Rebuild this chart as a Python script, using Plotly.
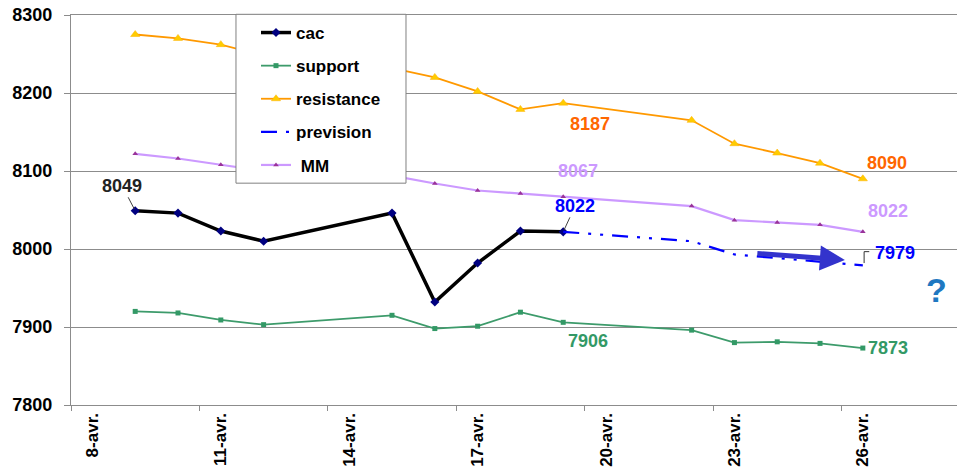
import plotly.graph_objects as go

# ---------------- data ----------------
days_cac = [9, 10, 11, 12, 15, 16, 17, 18, 19]
cac = [8049, 8046, 8023, 8010, 8046, 7932, 7982, 8023, 8022]

days_full = [9, 10, 11, 12, 15, 16, 17, 18, 19, 22, 23, 24, 25, 26]
support = [7920, 7918, 7909, 7903, 7915, 7898, 7901, 7919, 7906, 7896, 7880, 7881, 7879, 7873]
resistance = [8275, 8270, 8262, 8248, 8232, 8220, 8202, 8179, 8187, 8165, 8135, 8123, 8110, 8090]
mm = [8122, 8116, 8108, 8100, 8094, 8084, 8075, 8071, 8067, 8055, 8037, 8034, 8031, 8022]

days_prev = [19, 22, 23, 26]
prevision = [8022, 8010, 7993, 7979]

tick_days = [8, 11, 14, 17, 20, 23, 26]
tick_text = ["8-avr.", "11-avr.", "14-avr.", "17-avr.", "20-avr.", "23-avr.", "26-avr."]
y_ticks = [7800, 7900, 8000, 8100, 8200, 8300]

FONT = "Arial, Liberation Sans, sans-serif"
GRID = "#8c8c8c"

fig = go.Figure()

fig.add_trace(go.Scatter(
    x=days_cac, y=cac, name="cac", mode="lines+markers", legendgroup="a",
    line=dict(color="black", width=3.5),
    marker=dict(symbol="diamond", color="#000080", size=7)))
fig.add_trace(go.Scatter(
    x=days_full, y=support, name="support", mode="lines+markers", legendgroup="b",
    line=dict(color="#3d9b6b", width=1.8),
    marker=dict(symbol="square", color="#339966", size=5)))
fig.add_trace(go.Scatter(
    x=days_full, y=resistance, name="resistance", mode="lines+markers", legendgroup="c",
    line=dict(color="#FF9900", width=1.8),
    marker=dict(symbol="triangle-up", color="#FFCC00", size=8,
                line=dict(color="#FFB000", width=0.5))))
fig.add_trace(go.Scatter(
    x=days_prev, y=prevision, name="prevision", mode="lines", legendgroup="d",
    line=dict(color="#0000FF", width=2.2, dash="16px,9px,3px,9px,3px,9px")))
fig.add_trace(go.Scatter(
    x=days_full, y=mm, name="\u00a0MM", mode="lines+markers", legendgroup="e",
    line=dict(color="#CC99FF", width=2.2),
    marker=dict(symbol="triangle-up", color="#993399", size=5)))

ann = []
lab = dict(size=18, family=FONT, weight="bold")


def vlabel(x, y, text, color, dx, dy):
    ann.append(dict(x=x, y=y, xref="x", yref="y", text=str(text),
                    showarrow=False, xshift=dx, yshift=dy,
                    font=dict(color=color, **lab)))


# leader-line labels
ann.append(dict(x=days_cac[0], y=cac[0], xref="x", yref="y", text=str(cac[0]),
                showarrow=True, arrowhead=0, arrowwidth=1, arrowcolor="#404040",
                ax=-13, ay=-25, standoff=2, font=dict(color="#222222", **lab)))
ann.append(dict(x=days_cac[-1], y=cac[-1], xref="x", yref="y", text=str(cac[-1]),
                showarrow=True, arrowhead=0, arrowwidth=1, arrowcolor="#404040",
                ax=12, ay=-26, standoff=2, font=dict(color="#0000FF", **lab)))

i19 = days_full.index(19)
vlabel(19, resistance[i19], resistance[i19], "#FF6600", 27, -21)
vlabel(19, mm[i19], mm[i19], "#CC99FF", 15, 26)
vlabel(19, support[i19], support[i19], "#339966", 25, -19)
vlabel(26, resistance[-1], resistance[-1], "#FF6600", 24, 16)
vlabel(26, mm[-1], mm[-1], "#CC99FF", 25, 21)
vlabel(26, prevision[-1], prevision[-1], "#0000FF", 32, 12)
vlabel(26, support[-1], support[-1], "#339966", 25, 0)

# big arrow
ann.append(dict(x=25.58, y=7986, ax=23.5, ay=7994.5, xref="x", yref="y",
                axref="x", ayref="y", text="", showarrow=True, arrowhead=2,
                arrowsize=1.0, arrowwidth=5, arrowcolor="#3333CC"))
# question mark
ann.append(dict(x=27.73, y=7947, xref="x", yref="y", text="?", showarrow=False,
                font=dict(size=34, color="#1F78C1", family=FONT, weight="bold")))

shapes = [
    # leader bracket for 7979
    dict(type="path", xref="x", yref="y",
         path="M 26.03 7982 L 26.03 7996.6 L 26.15 7996.6",
         line=dict(color="#333333", width=1)),
    # legend frame
    dict(type="rect", xref="paper", yref="paper", x0=0.1862, x1=0.3781, y0=0.5688, y1=1.0018,
         fillcolor="white", line=dict(color="#808080", width=1), layer="above"),
]

fig.update_layout(
    width=962, height=474,
    margin=dict(l=71, r=5, t=15, b=69, autoexpand=False),
    paper_bgcolor="white", plot_bgcolor="white",
    font=dict(family=FONT, size=17, color="black"),
    showlegend=True,
    legend=dict(x=0.2088, y=1.0, xanchor="left", yanchor="top",
                bgcolor="rgba(0,0,0,0)", borderwidth=0,
                font=dict(size=17, family=FONT, color="black", weight="bold"),
                tracegroupgap=8, itemwidth=30),
    annotations=ann, shapes=shapes,
)

fig.update_xaxes(
    range=[7.5, 28.2], tickmode="array", tickvals=tick_days,
    ticktext=tick_text, tickangle=-90, automargin=False,
    ticks="", showgrid=False, zeroline=False,
    showline=True, linecolor=GRID, linewidth=1.3, mirror=True,
    tickfont=dict(size=17, family=FONT, color="black", weight="bold"),
    minor=dict(tickmode="array", tickvals=[d - 0.5 for d in tick_days],
               ticks="outside", ticklen=5, tickcolor=GRID, showgrid=False),
)
fig.update_yaxes(
    range=[7800, 8300], tickmode="array", tickvals=y_ticks,
    ticktext=[str(v) for v in y_ticks], automargin=False,
    ticks="outside", ticklen=6, tickcolor=GRID,
    showgrid=True, gridcolor=GRID, gridwidth=1.3, zeroline=False,
    showline=True, linecolor=GRID, linewidth=1.3,
    tickfont=dict(size=18, family=FONT, color="black", weight="bold"),
    ticklabelstandoff=8,
)

fig.write_html("out.html", config={"displayModeBar": False},
               post_script="document.body.style.margin='0px';document.body.style.overflow='hidden';")
